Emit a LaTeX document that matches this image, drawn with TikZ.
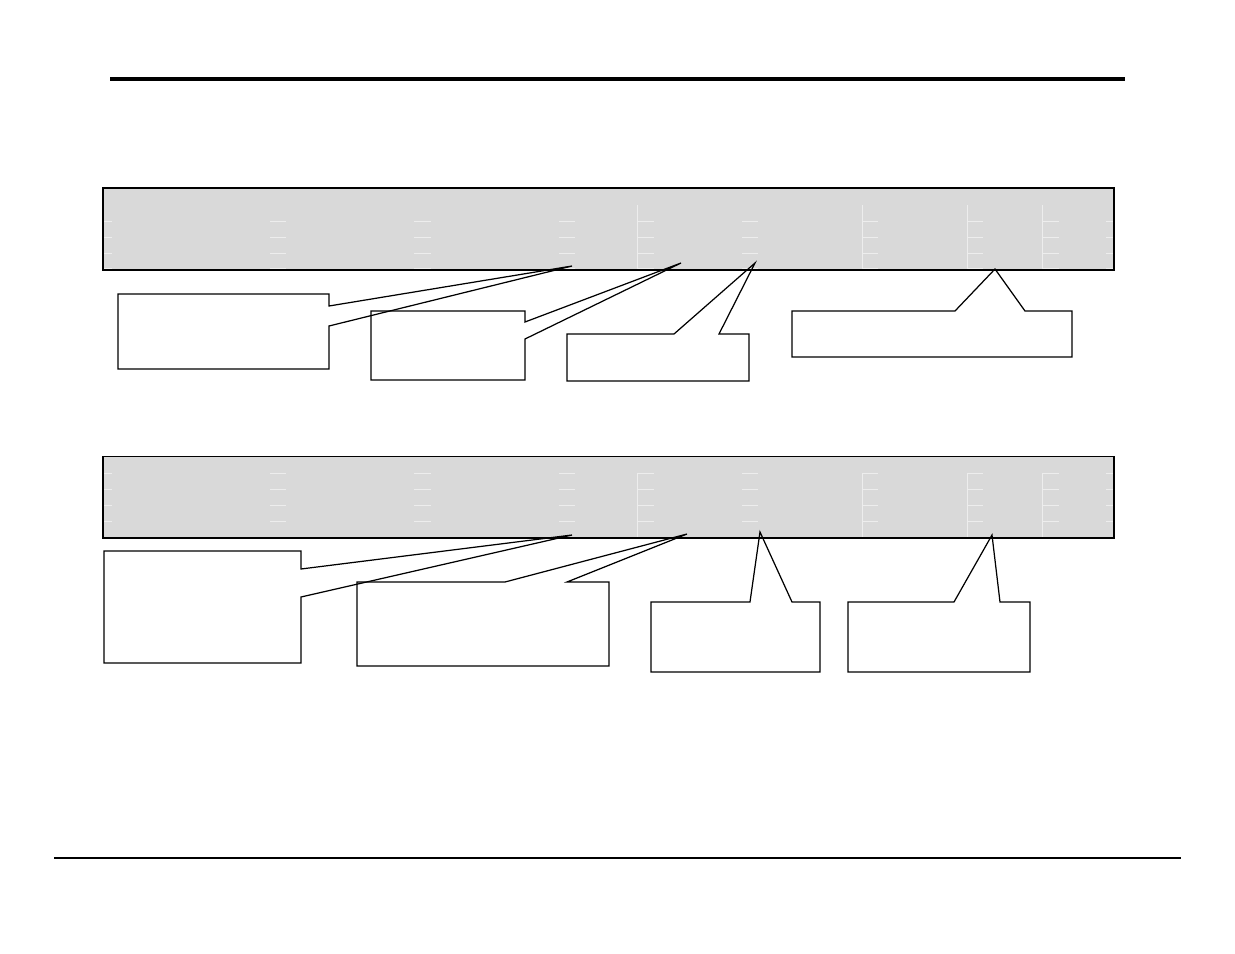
\documentclass[tikz,border=0pt]{standalone}
\usepackage{tikz}

\begin{document}
\begin{tikzpicture}[x=0.02cm, y=-0.02cm,
    bar/.style={fill=black!15},
    barline/.style={draw, line width=0.8pt},
    tick/.style={draw=black!7, line width=0.5pt},
    note/.style={draw, line width=0.7pt, line join=miter}]
\useasboundingbox (0,0) rectangle (1235,954);
\begin{scope}
    % rules at top and bottom
    \coordinate (r1) at (110,79);
    \coordinate (r2) at (1125,79);
    \coordinate (r3) at (54,858);
    \coordinate (r4) at (1181,858);
    \path [line width=2.3pt] (r1) edge (r2);
    \path [line width=0.6pt] (r3) edge (r4);

    % grey bars
    \path [bar] (103,188) rectangle (1114,270);
    \path [bar] (103,456.5) rectangle (1114,538);
    \foreach \a/\b in {104/112, 270/286, 414/431, 559/575, 637/654, 742/758, 862/878, 967/983, 1042/1059, 1106/1113} {
        \foreach \y in {221.5, 237, 253, 268.5} \draw [tick] (\a,\y) -- (\b,\y);
        \foreach \y in {473.5, 489.5, 505, 521} \draw [tick] (\a,\y) -- (\b,\y);
    }
    \foreach \x in {637, 862, 967, 1042} {
        \draw [tick] (\x,205) -- (\x,269);
        \draw [tick] (\x,473) -- (\x,537);
    }
    \draw [barline] (103,188) rectangle (1114,270);
    \draw [barline] (103,456.5) rectangle (1114,538);

    % callouts, upper bar
    \coordinate (ta) at (572,266);
    \coordinate (tb) at (681,263);
    \coordinate (tc) at (755,263);
    \coordinate (td) at (995,269);
    \draw [note] (118,294) -- (329,294) -- (329,306) -- (ta) -- (329,326) -- (329,369) -- (118,369) -- cycle;
    \draw [note] (371,311) -- (525,311) -- (525,322) -- (tb) -- (525,339) -- (525,380) -- (371,380) -- cycle;
    \draw [note] (567,334) -- (674,334) -- (tc) -- (719,334) -- (749,334) -- (749,381) -- (567,381) -- cycle;
    \draw [note] (792,311) -- (955,311) -- (td) -- (1025,311) -- (1072,311) -- (1072,357) -- (792,357) -- cycle;

    % callouts, lower bar
    \coordinate (te) at (572,535);
    \coordinate (tf) at (687,534);
    \coordinate (tg) at (760,532);
    \coordinate (th) at (992,535);
    \draw [note] (104,551) -- (301,551) -- (301,569) -- (te) -- (301,597) -- (301,663) -- (104,663) -- cycle;
    \draw [note] (357,582) -- (505,582) -- (tf) -- (567,582) -- (609,582) -- (609,666) -- (357,666) -- cycle;
    \draw [note] (651,602) -- (750,602) -- (tg) -- (792,602) -- (820,602) -- (820,672) -- (651,672) -- cycle;
    \draw [note] (848,602) -- (954,602) -- (th) -- (1000,602) -- (1030,602) -- (1030,672) -- (848,672) -- cycle;
\end{scope}
\end{tikzpicture}
\end{document}
